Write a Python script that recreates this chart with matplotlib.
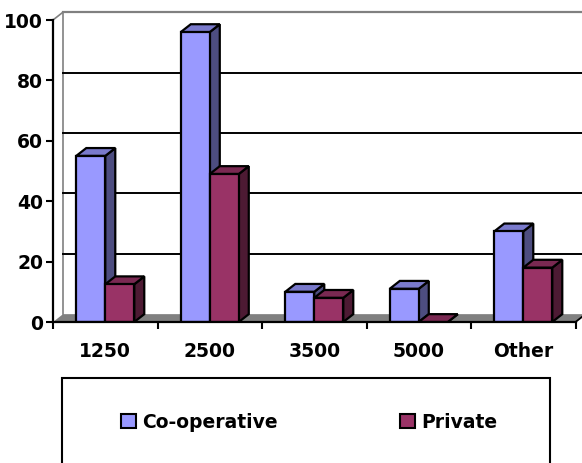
import numpy as np
import matplotlib.pyplot as plt
from matplotlib.patches import Polygon, Rectangle

categories = ['1250', '2500', '3500', '5000', 'Other']
coop = [55, 96, 10, 11, 30]
private = [12.5, 49, 8, 0, 18]
series_names = ['Co-operative', 'Private']

# colours: front, side, top
coop_cols = ('#9999FF', '#4D4D80', '#7A7ACC')
priv_cols = ('#993366', '#4D1A33', '#7A2952')

W, H = 582, 463
fig = plt.figure(figsize=(W / 100, H / 100), dpi=100)
ax = fig.add_axes([53 / W, 141 / H, (W - 53) / W, 322 / H])
ax.set_xlim(-0.5, -0.5 + (W - 53) / 104.5)
ax.set_ylim(0, 322 / 3.02)
ax.patch.set_alpha(0)

dx, dy = 0.096, 2.6
bw = 0.2775
n = len(categories)
x = np.arange(n)

# back wall and floor
ax.plot([-0.5 + dx, -0.5 + dx], [dy, 100 + dy], color='#808080', lw=1.2, zorder=1)
ax.plot([-0.5 + dx, 5], [100 + dy, 100 + dy], color='#808080', lw=1.6, zorder=1, clip_on=False)
ax.plot([-0.5, -0.5 + dx], [100, 100 + dy], color='#808080', lw=1.2, zorder=1)
for v in [20, 40, 60, 80]:
    ax.plot([-0.5 + dx, 5], [v + dy, v + dy], color='black', lw=1.4, zorder=1, clip_on=False)
ax.add_patch(Polygon([(-0.5, 0), (n - 0.5, 0), (n - 0.5 + dx, dy), (-0.5 + dx, dy)],
                     closed=True, facecolor='#808080', edgecolor='none', zorder=1.5))
ax.plot([n - 0.5, n - 0.5 + dx], [0, dy], color='black', lw=1.3, zorder=1.6)


def bar3d(x0, h, cols, z):
    ax.add_patch(Polygon([(x0 + bw, 0), (x0 + bw + dx, dy), (x0 + bw + dx, h + dy), (x0 + bw, h)],
                         closed=True, facecolor=cols[1], edgecolor='black', lw=1.6, zorder=z))
    ax.add_patch(Polygon([(x0, h), (x0 + dx, h + dy), (x0 + bw + dx, h + dy), (x0 + bw, h)],
                         closed=True, facecolor=cols[2], edgecolor='black', lw=1.6, zorder=z))
    if h > 0:
        ax.bar(x0, h, bw, align='edge', color=cols[0], edgecolor='black', lw=1.6, zorder=z + 0.01)


for i in range(n):
    bar3d(x[i] - bw, coop[i], coop_cols, 2 + i)
    bar3d(x[i], private[i], priv_cols, 2.5 + i)

# axes
for s in ['top', 'right']:
    ax.spines[s].set_visible(False)
ax.spines['left'].set_bounds(0, 100)
ax.spines['bottom'].set_bounds(-0.5, n - 0.5)
for s in ['left', 'bottom']:
    ax.spines[s].set_linewidth(1.6)
    ax.spines[s].set_zorder(10)

fp = dict(family='DejaVu Sans', weight='bold', size=13.5)
ax.set_yticks([0, 20, 40, 60, 80, 100])
ax.set_yticklabels(['0', '20', '40', '60', '80', '100'], fontdict=fp)
ax.tick_params(axis='y', direction='out', length=5, width=1.5, pad=2)
ax.set_xticks(x)
ax.set_xticklabels(categories, fontdict=fp)
ax.set_xticks(np.arange(n + 1) - 0.5, minor=True)
ax.tick_params(axis='x', which='major', length=0, pad=14.5)
ax.tick_params(axis='x', which='minor', direction='out', length=5, width=1.5)

# legend box
fig.patches.append(Rectangle((62 / W, -0.05), (550 - 62) / W, (463 - 378) / H + 0.05,
                             transform=fig.transFigure, facecolor='white',
                             edgecolor='black', lw=1.5))
handles = [Rectangle((0, 0), 1, 1, facecolor=coop_cols[0], edgecolor='black', lw=1.5),
           Rectangle((0, 0), 1, 1, facecolor=priv_cols[0], edgecolor='black', lw=1.5)]
fig.legend(handles, series_names, loc='center left', bbox_to_anchor=(121 / W, (463 - 422) / H),
           ncol=2, frameon=False, prop=fp, handlelength=0.82, handleheight=0.82,
           handletextpad=0.32, columnspacing=6.5, borderpad=0, borderaxespad=0)

fig.savefig('out.png', dpi=100)
